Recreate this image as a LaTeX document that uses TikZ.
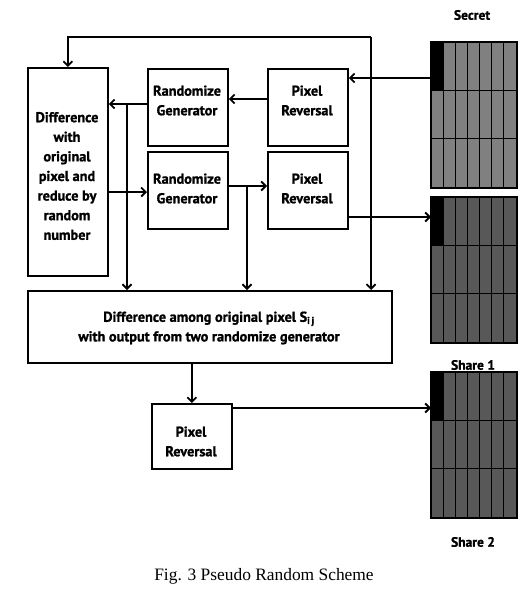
\documentclass[tikz,border=0pt]{standalone}
\usepackage{fontspec}
\setmainfont{Liberation Serif}
\newfontfamily\boxfont{PT Sans}[BoldFeatures={FakeBold=1.2}]
\usetikzlibrary{arrows.meta}
\begin{document}
\begin{tikzpicture}[x=1pt,y=-1pt,
  box/.style={draw,line width=1.8pt,anchor=north west,inner sep=0pt},
  txt/.style={font=\boxfont\bfseries\fontsize{14.3}{19.6}\selectfont,align=center,inner sep=0pt},
  lbl/.style={font=\boxfont\bfseries\fontsize{13.5}{16}\selectfont,inner sep=0pt},
  arr/.style={line width=1.8pt,-{Straight Barb[length=4.5pt,width=9pt]}},
  gridbox/.style={draw,line width=1.4pt,anchor=north west,inner sep=0pt,minimum width=85pt,minimum height=145pt},
  cellline/.style={line width=1.2pt}]
\useasboundingbox (0,0) rectangle (532,597);
% boxes
\node[box,minimum width=80pt,minimum height=208pt] (diff) at (27,67) {};
\node[box,minimum width=80pt,minimum height=77pt] (rg1) at (147,68) {};
\node[box,minimum width=80pt,minimum height=77pt] (pr1) at (267,68) {};
\node[box,minimum width=80pt,minimum height=77pt] (rg2) at (147,151) {};
\node[box,minimum width=80pt,minimum height=77pt] (pr2) at (267,151) {};
\node[box,minimum width=364pt,minimum height=72pt] (bot) at (27,290) {};
\node[box,minimum width=80pt,minimum height=65pt] (pr3) at (151,403) {};
% box texts
\node[txt] (difft) at (67,176) {Difference\\with\\original\\pixel and\\reduce by\\random\\number};
\node[txt] (rg1t) at (187,100.5) {Randomize\\Generator};
\node[txt] (pr1t) at (307,100.5) {Pixel\\Reversal};
\node[txt] (rg2t) at (187,188.5) {Randomize\\Generator};
\node[txt] (pr2t) at (307,188.5) {Pixel\\Reversal};
\node[txt] (bott) at (209,328) {Difference among original pixel S\textsubscript{i\,j}\\with output from two randomize generator};
\node[txt] (pr3t) at (191,441.5) {Pixel\\Reversal};
% grids
\definecolor{secgray}{HTML}{808080}
\definecolor{shgray}{HTML}{585858}
\node[gridbox,fill=secgray] (sec) at (431,42) {};
\node[gridbox,fill=shgray] (sh1) at (431,197) {};
\node[gridbox,fill=shgray] (sh2) at (431,372) {};
\foreach \g in {sec,sh1,sh2}{
  \fill[black] (\g.north west) rectangle ([xshift=12.14pt,yshift=-48.3pt]\g.north west);
  \foreach \i in {1,...,6}{
    \draw[cellline] ([xshift=\i*12.14pt]\g.north west) -- ([xshift=\i*12.14pt]\g.south west);
  }
  \foreach \j in {1,2}{
    \draw[cellline] ([yshift=-\j*48.3pt]\g.north west) -- ([yshift=-\j*48.3pt]\g.north east);
  }
  \draw[line width=1.4pt] (\g.north west) rectangle (\g.south east);
}
% labels
\node[lbl] (seclbl) at (472,15) {Secret};
\node[lbl] (sh1lbl) at (473,365) {Share 1};
\node[lbl] (sh2lbl) at (473,542) {Share 2};
% connectors
\coordinate (fb) at (371,37);
\draw[arr] (fb) -| (diff.north);
\draw[arr] (fb) -- (fb |- bot.north);
\coordinate (s1) at (431,78);
\draw[arr] (s1) -- (s1 -| pr1.east);
\draw[arr] (pr1.west |- 0,99) -- (rg1.east |- 0,99);
\draw[arr] (rg1.west |- 0,104) -- (diff.east |- 0,104);
\coordinate (b1) at (127,104);
\draw[arr] (b1) -- (b1 |- bot.north);
\draw[arr] (diff.east |- 0,192) -- (rg2.west |- 0,192);
\draw[arr] (rg2.east |- 0,186) -- (pr2.west |- 0,186);
\coordinate (b2) at (247,186);
\draw[arr] (b2) -- (b2 |- bot.north);
\draw[arr] (pr2.east |- 0,217) -- (sh1.west |- 0,217);
\draw[arr] (bot.south -| pr3.north) -- (pr3.north);
\draw[arr] (pr3.east |- 0,408) -- (sh2.west |- 0,408);
% caption
\node[font=\fontsize{17.4}{20}\selectfont,inner sep=0pt] (cap) at (264,576) {Fig. 3 Pseudo Random Scheme};
\end{tikzpicture}
\end{document}
